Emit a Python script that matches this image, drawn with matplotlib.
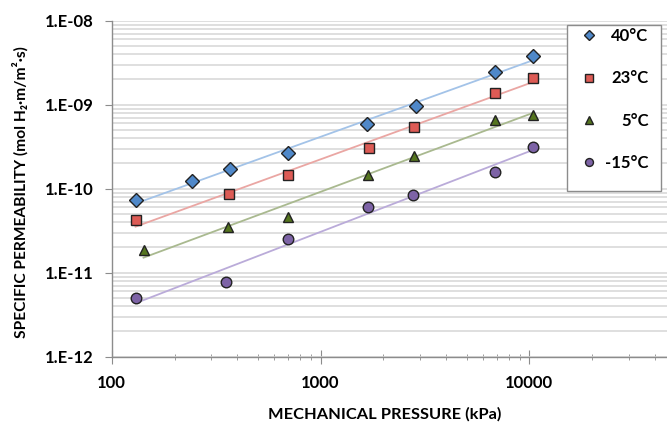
import numpy as np
import matplotlib.pyplot as plt
from matplotlib.patches import Rectangle
from matplotlib.ticker import FuncFormatter, LogLocator

plt.rcParams['font.family'] = ['Lato', 'DejaVu Sans']
plt.rcParams['font.weight'] = 'bold'

### Donnees
p_40 = [130, 243, 370, 698, 1670, 2880, 6820, 10370]
k_40 = [7.3e-11, 1.24e-10, 1.71e-10, 2.64e-10, 5.9e-10, 9.6e-10, 2.47e-9, 3.8e-9]

p_23 = [130, 364, 700, 1700, 2790, 6820, 10370]
k_23 = [4.2e-11, 8.6e-11, 1.46e-10, 3.03e-10, 5.4e-10, 1.39e-9, 2.06e-9]

p_5 = [142, 361, 698, 1690, 2790, 6820, 10370]
k_5 = [1.86e-11, 3.53e-11, 4.65e-11, 1.46e-10, 2.45e-10, 6.6e-10, 7.5e-10]

p_m15 = [130, 354, 698, 1680, 2780, 6820, 10370]
k_m15 = [4.95e-12, 7.8e-12, 2.52e-11, 6.0e-11, 8.4e-11, 1.57e-10, 3.16e-10]

labels = ['40°C', '23°C', '5°C', '-15°C']

series = [
    (p_40, k_40, 'D', '#4f88c9', '#a3c3e8', 6.8),
    (p_23, k_23, 's', '#dd5b55', '#eaa6a3', 7.6),
    (p_5, k_5, '^', '#55751f', '#a9b98f', 7.6),
    (p_m15, k_m15, 'o', '#7d63a6', '#baabd9', 7.6),
]

### Figure
fig = plt.figure(figsize=(6.67, 4.24), dpi=100)
ax = fig.add_axes([0.1675, 0.1587, 0.8325, 0.7925])

for (p, k, m, mc, lc, ms), lab in zip(series, labels):
    # courbe de tendance puissance (comme Excel)
    a, b = np.polyfit(np.log10(p), np.log10(k), 1)
    xs = np.logspace(np.log10(min(p)), np.log10(max(p)), 50)
    ax.plot(xs, 10 ** (a * np.log10(xs) + b), color=lc, lw=1.3, zorder=2)
    ax.plot(p, k, linestyle='none', marker=m, ms=ms, mfc=mc, mec='#222222',
            mew=1.0, label=lab, zorder=3)

ax.set_xscale('log')
ax.set_yscale('log')
ax.set_xlim(100, 45600)
ax.set_ylim(1e-12, 1e-8)

ax.yaxis.set_major_locator(LogLocator(base=10, numticks=10))
ax.yaxis.set_minor_locator(LogLocator(base=10, subs=np.arange(2, 10), numticks=10))
ax.yaxis.set_major_formatter(FuncFormatter(lambda v, pos: '1.E%03d' % round(np.log10(v))))
ax.yaxis.set_minor_formatter(FuncFormatter(lambda v, pos: ''))
ax.xaxis.set_major_formatter(FuncFormatter(lambda v, pos: '%d' % round(v)))
ax.xaxis.set_minor_formatter(FuncFormatter(lambda v, pos: ''))

ax.grid(True, which='both', axis='y', color='#d9d9d9', lw=1.2, zorder=0)
ax.set_axisbelow(True)

for s in ['top', 'right']:
    ax.spines[s].set_visible(False)
for s in ['left', 'bottom']:
    ax.spines[s].set_color('#8c8c8c')
    ax.spines[s].set_linewidth(1.0)

ax.tick_params(axis='y', which='major', direction='out', length=5, color='#8c8c8c',
               labelsize=12, pad=8)
ax.tick_params(axis='y', which='minor', length=0)
ax.tick_params(axis='x', which='major', direction='inout', length=10, color='#8c8c8c',
               labelsize=12, pad=8)
ax.tick_params(axis='x', which='minor', direction='inout', length=5, color='#8c8c8c')

ax.set_xlabel('MECHANICAL PRESSURE (kPa)', fontsize=11.8, fontweight='bold')
ax.xaxis.set_label_coords(0.492, -0.150)
ax.set_ylabel('SPECIFIC PERMEABILITY (mol H₂·m/m²·s)', fontsize=11.2,
              fontweight='bold')
ax.yaxis.label.set_va('center')
ax.yaxis.set_label_coords(-0.165, 0.49)

# cadre de la legende
ax.add_patch(Rectangle((0.820, 0.493), 0.169, 0.494, transform=ax.transAxes,
                       facecolor='white', edgecolor='#8c8c8c', lw=1.0, zorder=4,
                       clip_on=False))
leg = ax.legend(loc='upper left', bbox_to_anchor=(0.845, 0.978), fontsize=12,
                markerscale=0.75, handlelength=1.0, handletextpad=0.45,
                labelspacing=1.58, borderpad=0, borderaxespad=0, frameon=False)
leg.set_zorder(5)

# alignement a droite des textes de la legende
fig.canvas.draw()
texts = leg.get_texts()
widths = [t.get_window_extent().width for t in texts]
wmax = max(widths)
for t, w in zip(texts, widths):
    t.set_x(wmax - w)

fig.savefig('out.png', dpi=100)
